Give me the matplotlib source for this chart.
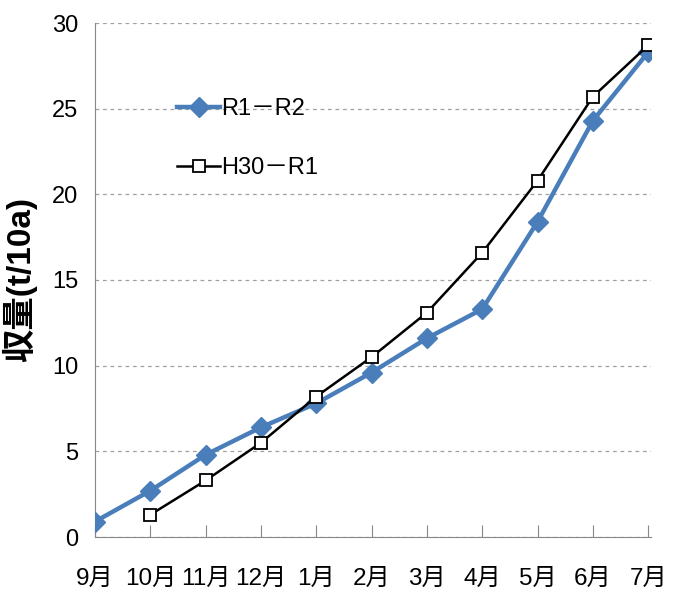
import matplotlib.pyplot as plt

plt.rcParams['font.family'] = ['Liberation Sans', 'Noto Sans CJK JP', 'DejaVu Sans']

months = ["9月", "10月", "11月", "12月", "1月", "2月", "3月", "4月", "5月", "6月", "7月"]
r1_r2 = [0.9, 2.7, 4.8, 6.4, 7.8, 9.6, 11.6, 13.3, 18.4, 24.3, 28.3]
h30_r1 = [None, 1.3, 3.3, 5.5, 8.2, 10.5, 13.1, 16.6, 20.8, 25.7, 28.7]

x = list(range(len(months)))
x_h30 = [i for i, v in zip(x, h30_r1) if v is not None]
y_h30 = [v for v in h30_r1 if v is not None]

fig = plt.figure(figsize=(6.86, 5.96), dpi=100)
ax = fig.add_axes([95 / 686, 1 - 537 / 596, (651 - 95) / 686, (537 - 23) / 596])

ax.plot(x, r1_r2, color="#4a7ebb", linewidth=3.2, marker="D", markersize=10,
        label="R1－R2", zorder=3)
ax.plot(x_h30, y_h30, color="black", linewidth=1.8, marker="s", markersize=8,
        markerfacecolor="white", markeredgecolor="black", markeredgewidth=1.3,
        label="H30－R1", zorder=4)

ax.set_xlim(0, 10.05)
ax.set_ylim(0, 30)
ax.set_yticks([0, 5, 10, 15, 20, 25, 30])
ax.set_xticks(x)
ax.set_xticklabels(months)
ax.yaxis.grid(True, linestyle=(0, (3, 3)), color="#a0a0a0", linewidth=0.9)
ax.set_axisbelow(True)

for s in ["top", "right"]:
    ax.spines[s].set_visible(False)
ax.spines["left"].set_color("#888888")
ax.spines["bottom"].set_color("#888888")
ax.tick_params(axis="x", direction="in", length=9, color="#888888", pad=22, labelsize=17.5)
ax.tick_params(axis="y", length=0, pad=12, labelsize=17)

ax.set_ylabel("収量(t/10a)", fontsize=24, fontweight="semibold")
ax.yaxis.set_label_coords(-0.104, 0.5)

ax.legend(loc="upper left", bbox_to_anchor=(0.11, 0.895), frameon=False,
          fontsize=17, handlelength=1.8, handletextpad=0.05, labelspacing=1.55)

fig.savefig("out.png", dpi=100)
